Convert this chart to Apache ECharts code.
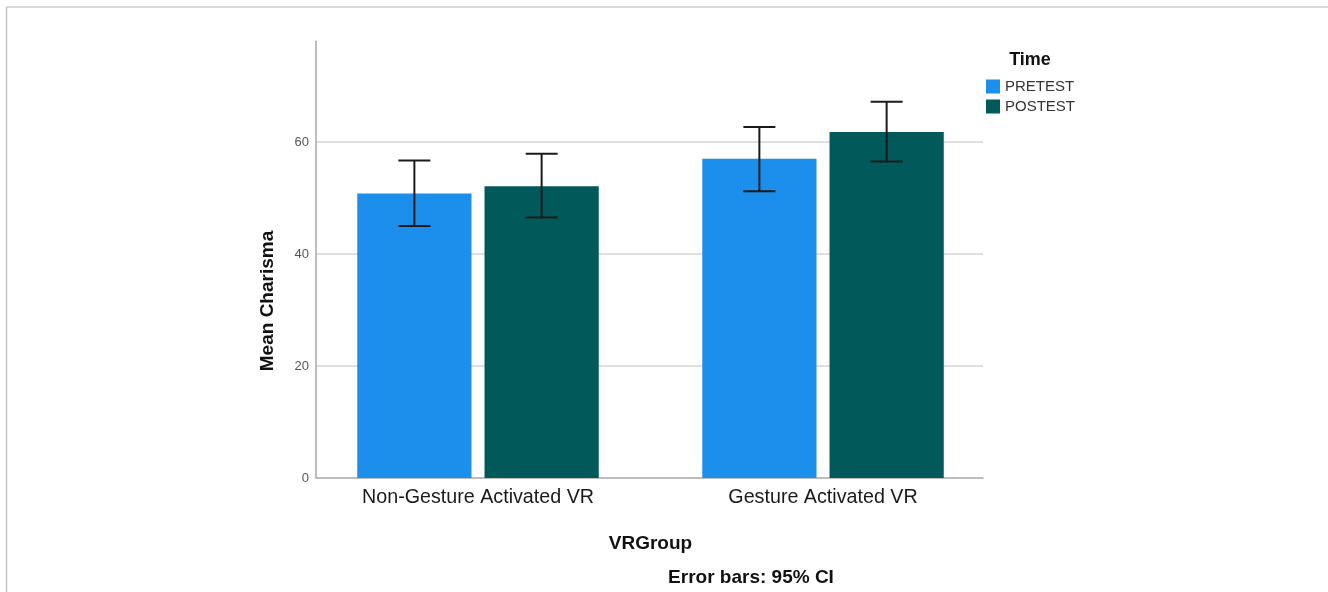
<!DOCTYPE html>
<html>
<head>
<meta charset="utf-8">
<script src="https://cdn.jsdelivr.net/npm/echarts@6/dist/echarts.min.js"></script>
<style>
  html, body { margin: 0; padding: 0; background: #fff; }
  #chart { width: 1328px; height: 592px; }
</style>
</head>
<body>
<div id="chart"></div>
<script>
const categories = ['Non-Gesture Activated VR', 'Gesture Activated VR'];
const seriesNames = ['PRETEST', 'POSTEST'];
const pretestMean = [50.8, 57.0];
const postestMean = [52.1, 61.8];
const pretestLow = [45.0, 51.2];
const pretestHigh = [56.7, 62.7];
const postestLow = [46.5, 56.5];
const postestHigh = [57.9, 67.2];
const yTicks = [0, 20, 40, 60];

const colors = ['#1c8eeb', '#01595a'];
const FONT = '"Liberation Sans", Arial, sans-serif';
const CAT_GAP = 0.30, BAR_GAP = 0.114;
const Y_MAX = 78;

function errorSeries(idx, low, high) {
  return {
    type: 'custom',
    name: seriesNames[idx] + ' CI',
    xAxisIndex: 1,
    yAxisIndex: 1,
    z: 10,
    silent: true,
    encode: { x: 0, y: [1, 2] },
    data: categories.map((c, i) => [i, low[i], high[i]]),
    renderItem: function (params, api) {
      const band = api.size([1, 0])[0];
      const bw = band * (1 - CAT_GAP) / (2 + BAR_GAP);
      const off = (idx - 0.5) * bw * (1 + BAR_GAP);
      const pLo = api.coord([api.value(0), api.value(1)]);
      const pHi = api.coord([api.value(0), api.value(2)]);
      const x = pLo[0] + off;
      const cap = 16;
      const style = { stroke: '#1a1a1a', lineWidth: 2, fill: null };
      return {
        type: 'group',
        children: [
          { type: 'line', shape: { x1: x, y1: pLo[1], x2: x, y2: pHi[1] }, style },
          { type: 'line', shape: { x1: x - cap, y1: pLo[1], x2: x + cap, y2: pLo[1] }, style },
          { type: 'line', shape: { x1: x - cap, y1: pHi[1], x2: x + cap, y2: pHi[1] }, style }
        ]
      };
    }
  };
}

const chart = echarts.init(document.getElementById('chart'), null, { renderer: 'canvas' });
chart.setOption({
  animation: false,
  backgroundColor: '#fff',
  color: colors,
  grid: [
    // visible axis frame
    { left: 316, right: 345, top: 41.2, bottom: 114, containLabel: false },
    // bar placement (SPSS places groups slightly off the even split)
    { left: 305.5, right: 332.5, top: 41.2, bottom: 114, containLabel: false }
  ],
  legend: {
    data: seriesNames.map(n => ({ name: n, icon: 'rect' })),
    orient: 'vertical',
    left: 986,
    top: 79,
    padding: 0,
    itemWidth: 14,
    itemHeight: 14,
    itemGap: 5,
    textStyle: { fontFamily: FONT, fontSize: 15, color: '#333' }
  },
  xAxis: [
    {
      type: 'category',
      gridIndex: 0,
      data: categories,
      axisLine: { show: true, lineStyle: { color: '#a8a8a8', width: 1.5 } },
      axisTick: { show: false },
      axisLabel: { show: false },
      splitLine: { show: false }
    },
    {
      type: 'category',
      gridIndex: 1,
      data: categories,
      name: 'VRGroup',
      nameLocation: 'middle',
      nameGap: 56,
      nameTextStyle: { fontFamily: FONT, fontSize: 19, fontWeight: 'bold', color: '#111' },
      axisLine: { show: false },
      axisTick: { show: false },
      axisLabel: { fontFamily: FONT, fontSize: 19.7, color: '#1a1a1a', margin: 10 },
      splitLine: { show: false }
    }
  ],
  yAxis: [
    {
      type: 'value',
      gridIndex: 0,
      min: 0,
      max: Y_MAX,
      interval: 20,
      axisLine: { show: true, lineStyle: { color: '#a8a8a8', width: 1.5 } },
      axisTick: { show: false },
      axisLabel: {
        fontFamily: FONT, fontSize: 13, color: '#555', margin: 7,
        formatter: v => (yTicks.indexOf(v) >= 0 ? String(v) : '')
      },
      splitLine: { show: true, showMaxLine: false, showMinLine: false, lineStyle: { color: '#d4d4d4', width: 1.5 } }
    },
    {
      type: 'value',
      gridIndex: 1,
      min: 0,
      max: Y_MAX,
      interval: 20,
      show: false
    }
  ],
  graphic: [
    { type: 'line', shape: { x1: 6.5, y1: 7, x2: 1328, y2: 7 }, style: { stroke: '#cfcfcf', lineWidth: 1.5 }, silent: true },
    { type: 'line', shape: { x1: 6.5, y1: 7, x2: 6.5, y2: 592 }, style: { stroke: '#c4c4c4', lineWidth: 1.5 }, silent: true },
    {
      type: 'text', x: 268, y: 301, rotation: Math.PI / 2,
      style: { text: 'Mean Charisma', font: 'bold 19px ' + FONT, fill: '#111', align: 'center', verticalAlign: 'middle' }
    },
    {
      type: 'text', x: 1030, y: 60,
      style: { text: 'Time', font: 'bold 18px ' + FONT, fill: '#111', align: 'center', verticalAlign: 'middle' }
    },
    {
      type: 'text', x: 751, y: 578,
      style: { text: 'Error bars: 95% CI', font: 'bold 19px ' + FONT, fill: '#111', align: 'center', verticalAlign: 'middle' }
    }
  ],
  series: [
    { type: 'bar', name: seriesNames[0], xAxisIndex: 1, yAxisIndex: 1, data: pretestMean, barCategoryGap: (CAT_GAP * 100) + '%', barGap: (BAR_GAP * 100) + '%' },
    { type: 'bar', name: seriesNames[1], xAxisIndex: 1, yAxisIndex: 1, data: postestMean, barCategoryGap: (CAT_GAP * 100) + '%', barGap: (BAR_GAP * 100) + '%' },
    errorSeries(0, pretestLow, pretestHigh),
    errorSeries(1, postestLow, postestHigh)
  ]
});
</script>
</body>
</html>
